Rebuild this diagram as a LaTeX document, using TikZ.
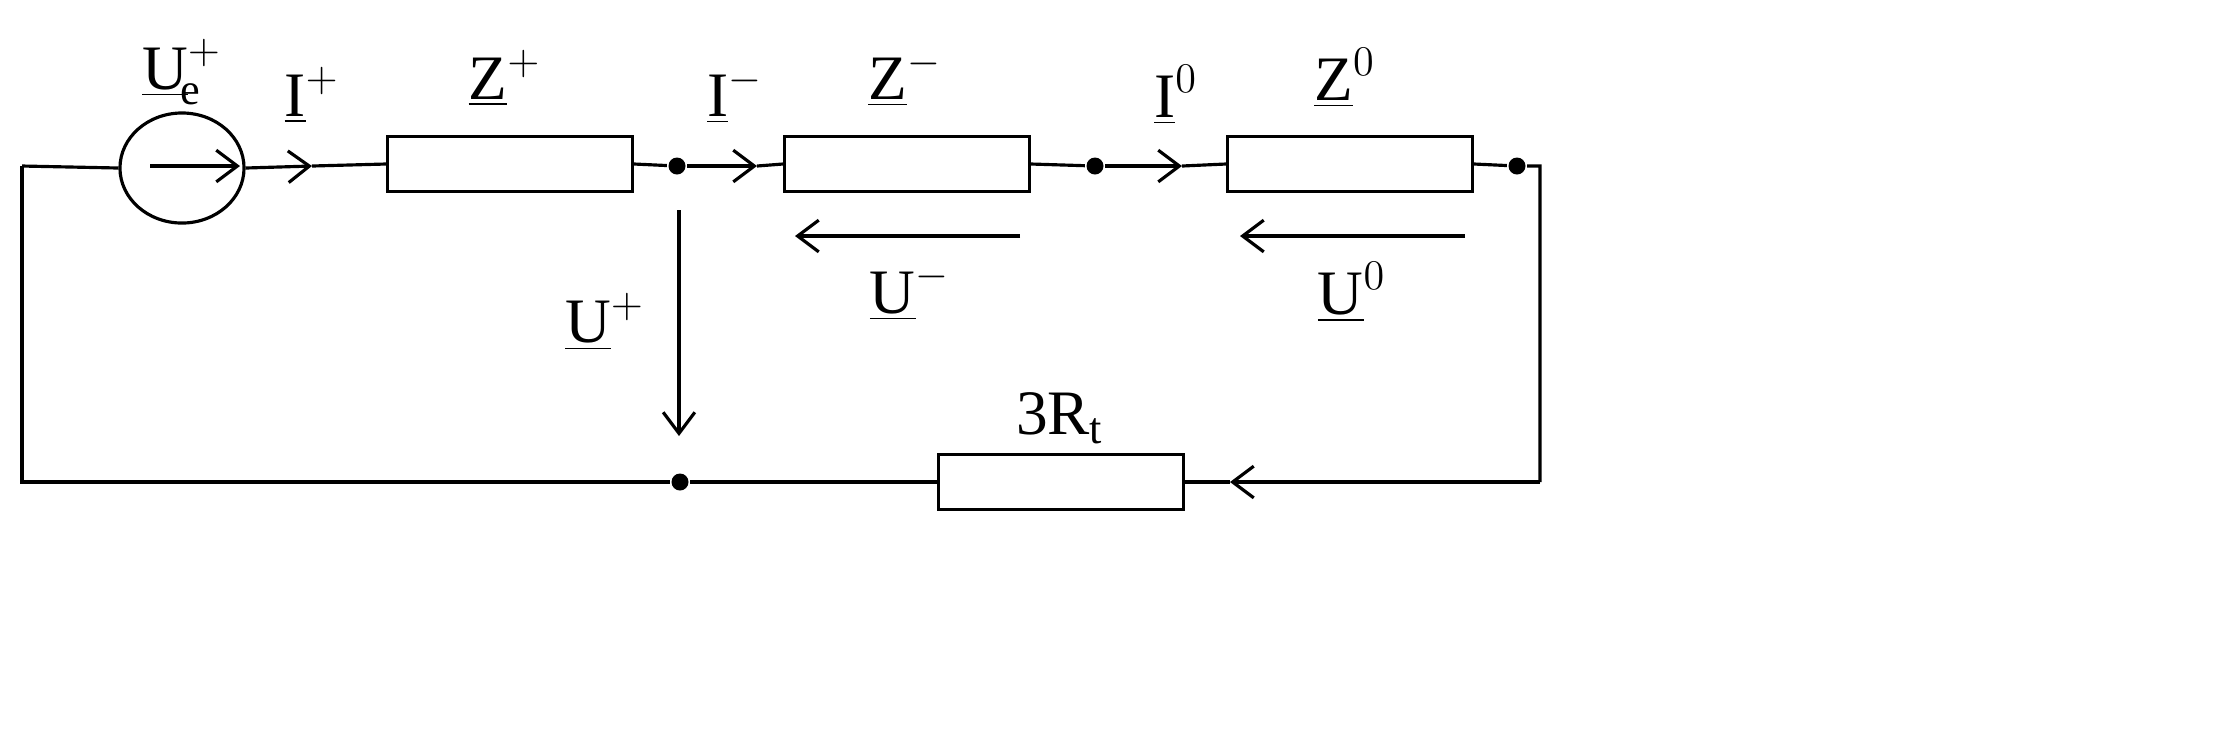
\documentclass[tikz,border=0pt]{standalone}
\usepackage{fontspec}
\setmainfont{Liberation Serif}
\usetikzlibrary{arrows.meta,shapes.geometric}
\begin{document}
\begin{tikzpicture}[x=0.01cm,y=-0.01cm,line width=0.9pt,
  res/.style={draw,minimum width=2.45cm,minimum height=0.55cm,inner sep=0pt},
  lbl/.style={font=\fontsize{18}{22}\selectfont},
  tip/.style={-{Straight Barb[length=6pt,width=9pt,line width=0.9pt]}},
  dot/.style={circle,fill,inner sep=0pt,minimum size=0.17cm}]
\useasboundingbox (0,0) rectangle (2223,753);
\coordinate (tl) at (22,166);
\coordinate (bl) at (22,482);
\coordinate (tr) at (1540,166);
\coordinate (br) at (1540,482);
\node[draw,ellipse,minimum width=1.24cm,minimum height=1.1cm,inner sep=0pt] (src) at (182,168) {};
\coordinate (sa) at (150,166);
\coordinate (sb) at (240,166);
\coordinate (ip) at (312,166);
\node[res] (zp) at (510,164) {};
\node[dot] (n1) at (677,166) {};
\coordinate (im) at (757,166);
\node[res] (zm) at (907,164) {};
\node[dot] (n2) at (1095,166) {};
\coordinate (io) at (1182,166);
\node[res] (zo) at (1350,164) {};
\node[dot] (n3) at (1517,166) {};
\node[dot] (n4) at (680,482) {};
\node[res] (rt) at (1061,482) {};
\coordinate (ib) at (1230,482);
% wires
\draw (tl) -- (src.west);
\draw[tip] (sa) -- (sb);
\draw[tip] (src.east) -- (ip);
\draw (ip) -- (zp.west);
\draw (zp.east) -- (n1);
\draw[tip] (n1) -- (im);
\draw (im) -- (zm.west);
\draw (zm.east) -- (n2);
\draw[tip] (n2) -- (io);
\draw (io) -- (zo.west);
\draw (zo.east) -- (n3) -- (tr) -- (br);
\draw[tip] (br) -- (ib);
\draw (ib) -- (rt.east);
\draw (rt.west) -- (n4) -- (bl) -- (tl);
% voltage arrows
\coordinate (um1) at (1020,236); \coordinate (um2) at (795,236);
\draw[tip] (um1) -- (um2);
\coordinate (uo1) at (1465,236); \coordinate (uo2) at (1240,236);
\draw[tip] (uo1) -- (uo2);
\coordinate (up1) at (679,210); \coordinate (up2) at (679,436);
\draw[tip] (up1) -- (up2);
% labels
\node[lbl] (lue) at (182,72) {$\underline{\mathrm{U}}_{\!\mathrm{e}}^{+}$};
\node[lbl] (lip) at (312,95) {$\underline{\mathrm{I}}^{+}$};
\node[lbl] (lzp) at (505,78) {$\underline{\mathrm{Z}}^{+}$};
\node[lbl] (lim) at (735,95) {$\underline{\mathrm{I}}^{-}$};
\node[lbl] (lzm) at (905,78) {$\underline{\mathrm{Z}}^{-}$};
\node[lbl] (lio) at (1176,95) {$\underline{\mathrm{I}}^{0}$};
\node[lbl] (lzo) at (1345,78) {$\underline{\mathrm{Z}}^{0}$};
\node[lbl] (lum) at (910,292) {$\underline{\mathrm{U}}^{-}$};
\node[lbl] (luo) at (1352,292) {$\underline{\mathrm{U}}^{0}$};
\node[lbl] (lup) at (605,322) {$\underline{\mathrm{U}}^{+}$};
\node[lbl] (lrt) at (1060,418) {3R$_{\mathrm{t}}$};
\end{tikzpicture}
\end{document}
